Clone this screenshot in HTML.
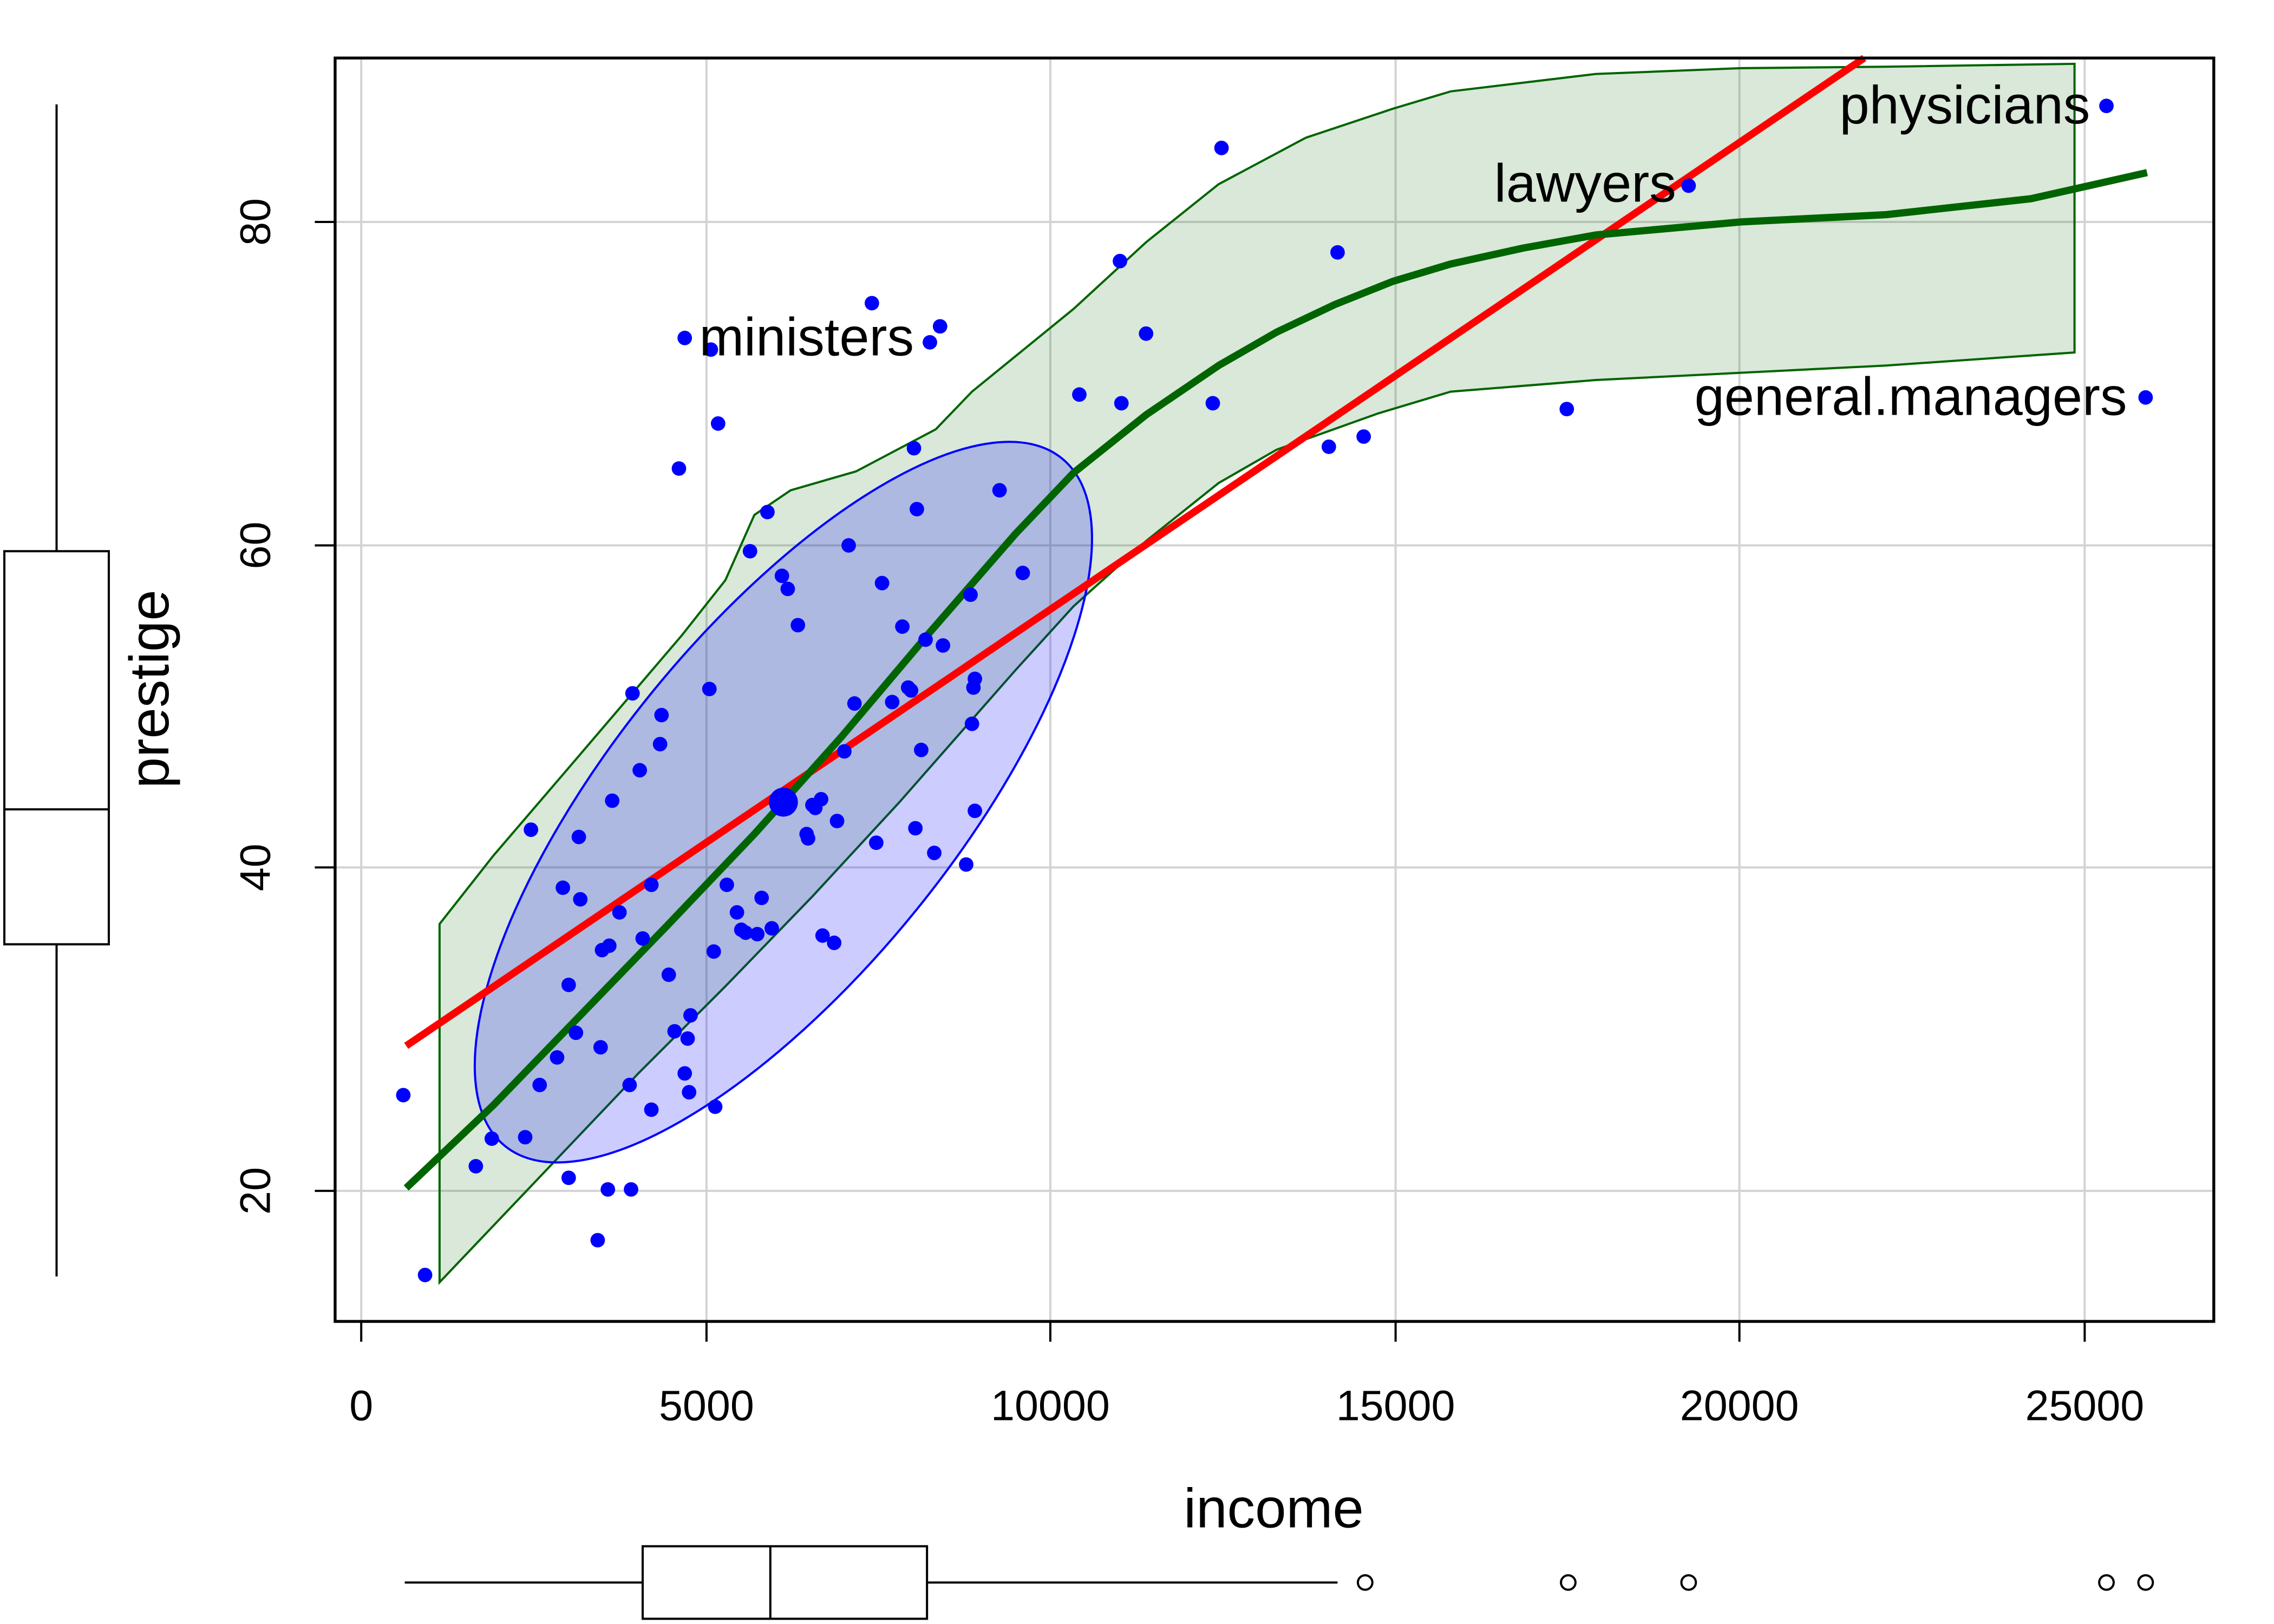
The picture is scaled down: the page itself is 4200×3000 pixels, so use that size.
<!DOCTYPE html>
<html><head><meta charset="utf-8"><style>html,body{margin:0;padding:0;background:#fff}svg{display:block}</style></head>
<body>
<svg width="4200" height="3000" viewBox="0 0 1567.5 1119.6" preserveAspectRatio="none" xmlns="http://www.w3.org/2000/svg" font-family="Liberation Sans, sans-serif">
<rect width="1567.5" height="1119.6" fill="#fff"/>
<g stroke="#d3d3d3" stroke-width="1.5">
<line x1="249" y1="40" x2="249" y2="911"/><line x1="487" y1="40" x2="487" y2="911"/><line x1="724" y1="40" x2="724" y2="911"/><line x1="962" y1="40" x2="962" y2="911"/><line x1="1199" y1="40" x2="1199" y2="911"/><line x1="1437" y1="40" x2="1437" y2="911"/>
<line x1="231" y1="153" x2="1526" y2="153"/><line x1="231" y1="376" x2="1526" y2="376"/><line x1="231" y1="598" x2="1526" y2="598"/><line x1="231" y1="821" x2="1526" y2="821"/>
</g>
<path d="M303,637 L340,590 L400,520 L470,438 L500,400 L520,355 L545,338 L590,325 L645,296 L670,270 L740,213 L790,167 L840,127 L900,95 L960,75 L1000,63 L1100,51 L1200,47 L1300,46 L1430,44 L1430,243 L1300,252 L1100,262 L1000,270 L950,285 L880,310 L840,333 L790,373 L740,418 L700,462 L620,553 L560,618 L500,680 L440,740 L303,884 Z" fill="#006400" fill-opacity="0.15" stroke="#006400" stroke-width="1.5"/>
<ellipse cx="540" cy="553" rx="305" ry="118" transform="rotate(-51 540 553)" fill="#0000ff" fill-opacity="0.2" stroke="#0000ff" stroke-width="1.5"/>
<line x1="280" y1="721" x2="1285" y2="40" stroke="#ff0000" stroke-width="5"/>
<path d="M280,819 L340,762 L400,700 L460,638 L520,575 L580,508 L640,437 L700,368 L740,326 L790,286 L840,252 L880,229 L920,210 L960,194 L1000,182 L1050,171 L1100,162 L1200,153 L1300,148 L1400,137 L1480,119" fill="none" stroke="#006400" stroke-width="5" stroke-linejoin="round"/>
<g fill="#0000ff">
<circle cx="278" cy="755" r="5"/><circle cx="293" cy="879" r="5"/><circle cx="328" cy="804" r="5"/><circle cx="339" cy="785" r="5"/><circle cx="362" cy="784" r="5"/><circle cx="366" cy="572" r="5"/><circle cx="372" cy="748" r="5"/><circle cx="384" cy="729" r="5"/><circle cx="388" cy="612" r="5"/><circle cx="392" cy="679" r="5"/><circle cx="392" cy="812" r="5"/><circle cx="397" cy="712" r="5"/><circle cx="399" cy="577" r="5"/><circle cx="400" cy="620" r="5"/><circle cx="412" cy="855" r="5"/><circle cx="414" cy="722" r="5"/><circle cx="415" cy="655" r="5"/><circle cx="419" cy="820" r="5"/><circle cx="420" cy="652" r="5"/><circle cx="422" cy="552" r="5"/><circle cx="427" cy="629" r="5"/><circle cx="435" cy="820" r="5"/><circle cx="434" cy="748" r="5"/><circle cx="436" cy="478" r="5"/><circle cx="441" cy="531" r="5"/><circle cx="443" cy="647" r="5"/><circle cx="449" cy="610" r="5"/><circle cx="449" cy="765" r="5"/><circle cx="455" cy="513" r="5"/><circle cx="456" cy="493" r="5"/><circle cx="461" cy="672" r="5"/><circle cx="465" cy="711" r="5"/><circle cx="468" cy="323" r="5"/><circle cx="472" cy="233" r="5"/><circle cx="472" cy="740" r="5"/><circle cx="474" cy="716" r="5"/><circle cx="476" cy="700" r="5"/><circle cx="475" cy="753" r="5"/><circle cx="489" cy="475" r="5"/><circle cx="490" cy="241" r="5"/><circle cx="492" cy="656" r="5"/><circle cx="493" cy="763" r="5"/><circle cx="495" cy="292" r="5"/><circle cx="501" cy="610" r="5"/><circle cx="508" cy="629" r="5"/><circle cx="511" cy="641" r="5"/><circle cx="514" cy="643" r="5"/><circle cx="517" cy="380" r="5"/><circle cx="522" cy="644" r="5"/><circle cx="525" cy="619" r="5"/><circle cx="529" cy="353" r="5"/><circle cx="532" cy="640" r="5"/><circle cx="539" cy="397" r="5"/><circle cx="543" cy="406" r="5"/><circle cx="550" cy="431" r="5"/><circle cx="556" cy="575" r="5"/><circle cx="557" cy="578" r="5"/><circle cx="560" cy="555" r="5"/><circle cx="562" cy="557" r="5"/><circle cx="566" cy="551" r="5"/><circle cx="567" cy="645" r="5"/><circle cx="575" cy="650" r="5"/><circle cx="577" cy="566" r="5"/><circle cx="582" cy="518" r="5"/><circle cx="585" cy="376" r="5"/><circle cx="589" cy="485" r="5"/><circle cx="601" cy="209" r="5"/><circle cx="604" cy="581" r="5"/><circle cx="608" cy="402" r="5"/><circle cx="615" cy="484" r="5"/><circle cx="622" cy="432" r="5"/><circle cx="626" cy="474" r="5"/><circle cx="628" cy="476" r="5"/><circle cx="630" cy="309" r="5"/><circle cx="631" cy="571" r="5"/><circle cx="632" cy="351" r="5"/><circle cx="635" cy="517" r="5"/><circle cx="638" cy="441" r="5"/><circle cx="641" cy="236" r="5"/><circle cx="644" cy="588" r="5"/><circle cx="648" cy="225" r="5"/><circle cx="650" cy="445" r="5"/><circle cx="666" cy="596" r="5"/><circle cx="669" cy="410" r="5"/><circle cx="670" cy="499" r="5"/><circle cx="671" cy="474" r="5"/><circle cx="672" cy="468" r="5"/><circle cx="672" cy="559" r="5"/><circle cx="689" cy="338" r="5"/><circle cx="705" cy="395" r="5"/><circle cx="744" cy="272" r="5"/><circle cx="772" cy="180" r="5"/><circle cx="773" cy="278" r="5"/><circle cx="790" cy="230" r="5"/><circle cx="836" cy="278" r="5"/><circle cx="842" cy="102" r="5"/><circle cx="916" cy="308" r="5"/><circle cx="922" cy="174" r="5"/><circle cx="940" cy="301" r="5"/><circle cx="1080" cy="282" r="5"/><circle cx="1164" cy="128" r="5"/><circle cx="1452" cy="73" r="5"/><circle cx="1479" cy="274" r="5"/>
<circle cx="540" cy="553" r="10"/>
</g>
<g font-size="37" fill="#000">
<text x="482" y="245">ministers</text><text x="1030" y="139">lawyers</text><text x="1268" y="85">physicians</text><text x="1168" y="286">general.managers</text>
</g>
<rect x="231" y="40" width="1295" height="871" fill="none" stroke="#000" stroke-width="2"/>
<g stroke="#000" stroke-width="1.5">
<line x1="249" y1="911" x2="1437" y2="911"/>
<line x1="249" y1="911" x2="249" y2="925"/><line x1="487" y1="911" x2="487" y2="925"/><line x1="724" y1="911" x2="724" y2="925"/><line x1="962" y1="911" x2="962" y2="925"/><line x1="1199" y1="911" x2="1199" y2="925"/><line x1="1437" y1="911" x2="1437" y2="925"/>
<line x1="231" y1="153" x2="231" y2="821"/>
<line x1="217" y1="153" x2="231" y2="153"/><line x1="217" y1="376" x2="231" y2="376"/><line x1="217" y1="598" x2="231" y2="598"/><line x1="217" y1="821" x2="231" y2="821"/>
</g>
<g font-size="29.5" text-anchor="middle" fill="#000">
<text x="249" y="979">0</text><text x="487" y="979">5000</text><text x="724" y="979">10000</text><text x="962" y="979">15000</text><text x="1199" y="979">20000</text><text x="1437" y="979">25000</text>
<text transform="translate(186 153) rotate(-90)">80</text><text transform="translate(186 376) rotate(-90)">60</text><text transform="translate(186 598) rotate(-90)">40</text><text transform="translate(186 821) rotate(-90)">20</text>
</g>
<text x="878" y="1053" font-size="38.5" text-anchor="middle">income</text>
<text transform="translate(116 475) rotate(-90)" font-size="38.5" text-anchor="middle">prestige</text>
<g stroke="#000" stroke-width="1.5" fill="none">
<line x1="39" y1="72" x2="39" y2="380"/><line x1="39" y1="651" x2="39" y2="880"/>
<rect x="3" y="380" width="72" height="271"/><line x1="3" y1="558" x2="75" y2="558"/>
<line x1="279" y1="1091" x2="443" y2="1091"/><line x1="639" y1="1091" x2="922" y2="1091"/>
<rect x="443" y="1066" width="196" height="50"/><line x1="531" y1="1066" x2="531" y2="1116"/>
<circle cx="941" cy="1091" r="5"/><circle cx="1081" cy="1091" r="5"/><circle cx="1164" cy="1091" r="5"/><circle cx="1452" cy="1091" r="5"/><circle cx="1479" cy="1091" r="5"/>
</g>
</svg>
</body></html>
